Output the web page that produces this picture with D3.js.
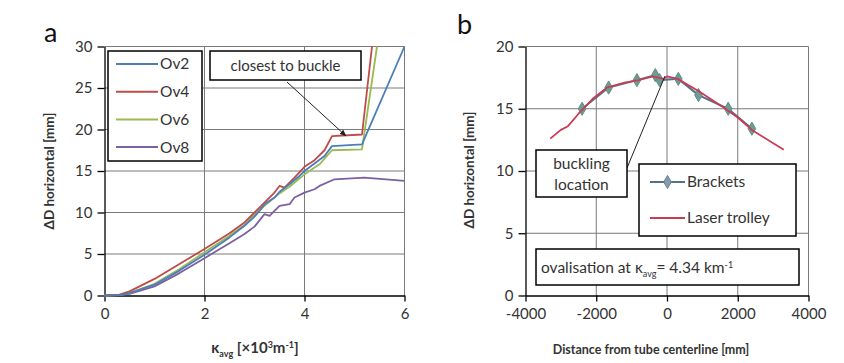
<!DOCTYPE html>
<html>
<head>
<meta charset="utf-8">
<script src="https://cdn.jsdelivr.net/npm/d3@7"></script>
</head>
<body style="margin:0">
<svg id="chart" width="844" height="363" font-family="Lato, 'Open Sans', sans-serif"></svg>
<script>
// ---- panel a data: kappa_avg [x10^3 m^-1] vs dD horizontal [mm]
const kappaOv2 = [0, 0.3, 0.5, 1, 1.5, 2, 2.5, 2.8, 3, 3.1, 3.2, 3.4, 3.5, 3.7, 3.9, 4, 4.2, 4.4, 4.55, 5.15, 6];
const dOv2 =     [0, 0.05, 0.3, 1.3, 3.0, 4.9, 7.0, 8.4, 9.5, 10.2, 11.0, 11.8, 12.5, 13.4, 14.4, 15.0, 15.9, 16.8, 18.0, 18.2, 30];

const kappaOv4 = [0, 0.3, 0.5, 1, 1.5, 2, 2.5, 2.8, 3, 3.2, 3.4, 3.5, 3.6, 3.8, 4, 4.2, 4.4, 4.55, 5.15, 5.35];
const dOv4 =     [0, 0.1, 0.5, 2.0, 3.8, 5.6, 7.5, 8.8, 10.0, 11.2, 12.4, 13.2, 13.0, 14.2, 15.5, 16.3, 17.5, 19.2, 19.4, 30];

const kappaOv6 = [0, 0.3, 0.5, 1, 1.5, 2, 2.5, 2.8, 3, 3.2, 3.5, 3.7, 4, 4.3, 4.55, 5.15, 5.45];
const dOv6 =     [0, 0.05, 0.3, 1.4, 3.2, 5.2, 7.2, 8.5, 9.7, 10.8, 12.3, 13.1, 14.6, 15.8, 17.5, 17.6, 30];

const kappaOv8 = [0, 0.3, 0.5, 1, 1.5, 2, 2.5, 2.8, 3, 3.2, 3.3, 3.5, 3.7, 3.8, 4, 4.2, 4.3, 4.6, 5.2, 6];
const dOv8 =     [0, 0.05, 0.2, 1.1, 2.7, 4.5, 6.3, 7.4, 8.3, 9.8, 9.6, 10.8, 11.0, 11.8, 12.4, 12.8, 13.2, 14.0, 14.2, 13.8];

const seriesA = [
  { name: 'Ov2', color: '#4a7ebb', x: kappaOv2, y: dOv2 },
  { name: 'Ov4', color: '#be4b48', x: kappaOv4, y: dOv4 },
  { name: 'Ov6', color: '#98b954', x: kappaOv6, y: dOv6 },
  { name: 'Ov8', color: '#7d60a0', x: kappaOv8, y: dOv8 }
];
const ticksAX = [0, 2, 4, 6];
const ticksAY = [0, 5, 10, 15, 20, 25, 30];

// ---- panel b data: distance from centerline [mm] vs dD horizontal [mm]
const bracketsX = [-2400, -1650, -850, -330, -210, 320, 890, 1730, 2400];
const bracketsY = [15.0, 16.7, 17.3, 17.7, 17.3, 17.4, 16.1, 15.0, 13.4];

const laserX = [-3300, -3000, -2800, -2500, -2100, -1700, -1200, -800, -400, -100, 0, 300, 900, 1600, 2000, 2400, 3300];
const laserY = [12.6, 13.3, 13.6, 14.6, 15.8, 16.7, 17.1, 17.3, 17.6, 17.4, 17.6, 17.4, 16.4, 15.1, 14.3, 13.3, 11.7];

const ticksBX = [-4000, -2000, 0, 2000, 4000];
const ticksBY = [0, 5, 10, 15, 20];

const svg = d3.select('#chart');
const GRID_COLOR = '#7a7a7a';
const TEXT = '#333';

// scales
const xa = d3.scaleLinear().domain([0, 6]).range([104.5, 404.5]);
const ya = d3.scaleLinear().domain([0, 30]).range([295.5, 46.5]);
const xb = d3.scaleLinear().domain([-4000, 4000]).range([525.5, 808.5]);
const yb = d3.scaleLinear().domain([0, 20]).range([295.5, 46.5]);

// gridlines: one path per panel, in their own bottom layer
function gridPath(xs, ys, xt, yt) {
    const left = xs.range()[0], right = xs.range()[1];
    const bottom = ys.range()[0], top = ys.range()[1];
    const p = d3.path();
    xt.slice(1).forEach(d => { p.moveTo(xs(d), top); p.lineTo(xs(d), bottom); });
    yt.slice(1).forEach(d => { p.moveTo(left, ys(d)); p.lineTo(right, ys(d)); });
    return p.toString();
}
const gridLayer = svg.append('g').attr('class', 'gridlayer');
gridLayer.append('path')
    .attr('d', gridPath(xa, ya, ticksAX, ticksAY))
    .attr('fill', 'none').attr('stroke', GRID_COLOR).attr('stroke-width', 1);
gridLayer.append('path')
    .attr('d', gridPath(xb, yb, ticksBX, ticksBY))
    .attr('fill', 'none').attr('stroke', GRID_COLOR).attr('stroke-width', 1);

// black axes with outward ticks
function drawAxes(g, xs, ys, xt, yt) {
    const left = xs.range()[0];
    const bottom = ys.range()[0];
    const yAxis = g.append('g')
        .attr('transform', `translate(${left},0)`)
        .call(d3.axisLeft(ys).tickValues(yt).tickSize(7).tickPadding(5).tickSizeOuter(0).tickFormat(d => String(d)));
    const xAxis = g.append('g')
        .attr('transform', `translate(0,${bottom})`)
        .call(d3.axisBottom(xs).tickValues(xt).tickSize(6).tickPadding(7).tickSizeOuter(0).tickFormat(d => String(d)));

    [xAxis, yAxis].forEach(a => {
        a.select('.domain').attr('stroke', '#000').attr('stroke-width', 1.3);
        a.selectAll('.tick line').attr('stroke', '#000').attr('stroke-width', 1.3);
        a.selectAll('.tick text')
            .attr('fill', TEXT)
            .style('font-size', '15px')
            .style('font-family', 'Lato, sans-serif');
    });
}

// ---------------- panel a ----------------
const ga = svg.append('g');
drawAxes(ga, xa, ya, ticksAX, ticksAY);

const defs = svg.append('defs');
defs.append('clipPath').attr('id', 'clipA')
    .append('rect').attr('x', 104).attr('y', 45).attr('width', 302).attr('height', 252);

const lineA = d3.line().x(d => xa(d[0])).y(d => ya(d[1]));
ga.append('g').attr('clip-path', 'url(#clipA)')
    .selectAll('path')
    .data(seriesA.slice().reverse())
    .enter().append('path')
    .attr('d', s => lineA(d3.zip(s.x, s.y)))
    .attr('fill', 'none')
    .attr('stroke', s => s.color)
    .attr('stroke-width', 1.8)
    .attr('stroke-linejoin', 'round');

// legend a
const legA = ga.append('g');
legA.append('rect')
    .attr('x', 108).attr('y', 51).attr('width', 94).attr('height', 110)
    .attr('fill', '#fff').attr('stroke', '#000').attr('stroke-width', 1.5);
seriesA.forEach((s, i) => {
    const yy = 64 + i * 27.7;
    legA.append('line')
        .attr('x1', 116).attr('x2', 158).attr('y1', yy).attr('y2', yy)
        .attr('stroke', s.color).attr('stroke-width', 2);
    legA.append('text')
        .attr('x', 160).attr('y', yy).attr('dy', '0.35em')
        .attr('fill', TEXT).style('font-size', '15.5px')
        .text(s.name);
});

// annotation a
ga.append('rect')
    .attr('x', 210).attr('y', 51).attr('width', 151).attr('height', 29)
    .attr('fill', '#fff').attr('stroke', '#000').attr('stroke-width', 1.5);
ga.append('text')
    .attr('x', 285.5).attr('y', 66).attr('dy', '0.35em')
    .attr('text-anchor', 'middle').attr('fill', TEXT).style('font-size', '15px')
    .text('closest to buckle');

defs.append('marker')
    .attr('id', 'arrow').attr('viewBox', '0 0 10 10')
    .attr('refX', 9).attr('refY', 5)
    .attr('markerWidth', 7).attr('markerHeight', 7)
    .attr('orient', 'auto')
    .append('path').attr('d', 'M0,1 L10,5 L0,9 z').attr('fill', '#222');

ga.append('line')
    .attr('x1', 287).attr('y1', 82).attr('x2', 346).attr('y2', 136)
    .attr('stroke', '#222').attr('stroke-width', 1)
    .attr('marker-end', 'url(#arrow)');

ga.append('text')
    .attr('x', 44).attr('y', 42)
    .attr('fill', '#111').style('font-size', '27px')
    .text('a');

ga.append('text')
    .attr('transform', 'translate(54,171) rotate(-90)')
    .attr('text-anchor', 'middle').attr('fill', TEXT)
    .style('font-size', '13.5px').style('font-weight', 'bold')
    .text('ΔD horizontal [mm]');

const xtA = ga.append('text')
    .attr('x', 255).attr('y', 353)
    .attr('text-anchor', 'middle').attr('fill', TEXT)
    .style('font-size', '15px').style('font-weight', 'bold');
xtA.append('tspan').text('κ');
xtA.append('tspan').attr('dy', 4).style('font-size', '9px').text('avg');
xtA.append('tspan').attr('dy', -4).text(' [×10');
xtA.append('tspan').attr('dy', -5).style('font-size', '9px').text('3');
xtA.append('tspan').attr('dy', 5).text('m');
xtA.append('tspan').attr('dy', -5).style('font-size', '9px').text('-1');
xtA.append('tspan').attr('dy', 5).text(']');

// ---------------- panel b ----------------
const gb = svg.append('g');
drawAxes(gb, xb, yb, ticksBX, ticksBY);

const lineB = d3.line().x(d => xb(d[0])).y(d => yb(d[1]));
const bracketsPts = d3.zip(bracketsX, bracketsY);

gb.append('path')
    .attr('d', lineB(bracketsPts))
    .attr('fill', 'none').attr('stroke', '#56708a').attr('stroke-width', 2);

const diamond = d3.symbol().type(d3.symbolDiamond).size(50);
gb.append('g').selectAll('path')
    .data(bracketsPts)
    .enter().append('path')
    .attr('transform', d => `translate(${xb(d[0])},${yb(d[1])})`)
    .attr('d', diamond)
    .attr('fill', '#6f9c92').attr('stroke', '#5a8f86').attr('stroke-width', 1);

gb.append('path')
    .attr('d', lineB(d3.zip(laserX, laserY)))
    .attr('fill', 'none').attr('stroke', '#c83c55').attr('stroke-width', 1.8)
    .attr('stroke-linejoin', 'round');

// buckling location callout
gb.append('line')
    .attr('x1', 627).attr('y1', 168).attr('x2', 665).attr('y2', 76)
    .attr('stroke', '#222').attr('stroke-width', 1);
gb.append('rect')
    .attr('x', 536).attr('y', 150).attr('width', 91).attr('height', 47)
    .attr('fill', '#fff').attr('stroke', '#000').attr('stroke-width', 1.5);
gb.append('text')
    .attr('x', 581.5).attr('y', 164).attr('dy', '0.35em')
    .attr('text-anchor', 'middle').attr('fill', TEXT).style('font-size', '15.5px')
    .text('buckling');
gb.append('text')
    .attr('x', 581.5).attr('y', 185).attr('dy', '0.35em')
    .attr('text-anchor', 'middle').attr('fill', TEXT).style('font-size', '15.5px')
    .text('location');

// legend b
const legB = gb.append('g');
legB.append('rect')
    .attr('x', 639).attr('y', 164).attr('width', 157).attr('height', 72)
    .attr('fill', '#fff').attr('stroke', '#000').attr('stroke-width', 1.5);
legB.append('line')
    .attr('x1', 650).attr('x2', 685).attr('y1', 182).attr('y2', 182)
    .attr('stroke', '#56708a').attr('stroke-width', 2);
legB.append('path')
    .attr('transform', 'translate(667.5,182)')
    .attr('d', diamond)
    .attr('fill', '#8a9aa8').attr('stroke', '#6a7f90');
legB.append('text')
    .attr('x', 687).attr('y', 182).attr('dy', '0.35em')
    .attr('fill', TEXT).style('font-size', '15.5px').text('Brackets');
legB.append('line')
    .attr('x1', 650).attr('x2', 685).attr('y1', 218).attr('y2', 218)
    .attr('stroke', '#c83c55').attr('stroke-width', 2);
legB.append('text')
    .attr('x', 687).attr('y', 218).attr('dy', '0.35em')
    .attr('fill', TEXT).style('font-size', '15.5px').text('Laser trolley');

// ovalisation note
gb.append('rect')
    .attr('x', 536).attr('y', 249).attr('width', 263).attr('height', 36)
    .attr('fill', '#fff').attr('stroke', '#000').attr('stroke-width', 1.5);
const ov = gb.append('text')
    .attr('x', 541).attr('y', 268).attr('dy', '0.35em')
    .attr('fill', TEXT).style('font-size', '15.5px');
ov.append('tspan').text('ovalisation at κ');
ov.append('tspan').attr('dy', 4).style('font-size', '9px').text('avg');
ov.append('tspan').attr('dy', -4).text('= 4.34 km');
ov.append('tspan').attr('dy', -5).style('font-size', '9px').text('-1');

gb.append('text')
    .attr('x', 457).attr('y', 34)
    .attr('fill', '#111').style('font-size', '27px')
    .text('b');

gb.append('text')
    .attr('transform', 'translate(474,170) rotate(-90)')
    .attr('text-anchor', 'middle').attr('fill', TEXT)
    .style('font-size', '13.5px').style('font-weight', 'bold')
    .text('ΔD horizontal [mm]');

gb.append('text')
    .attr('x', 651).attr('y', 354)
    .attr('text-anchor', 'middle').attr('fill', TEXT)
    .style('font-size', '12.5px').style('font-weight', 'bold')
    .text('Distance from tube centerline [mm]');
</script>
</body>
</html>
